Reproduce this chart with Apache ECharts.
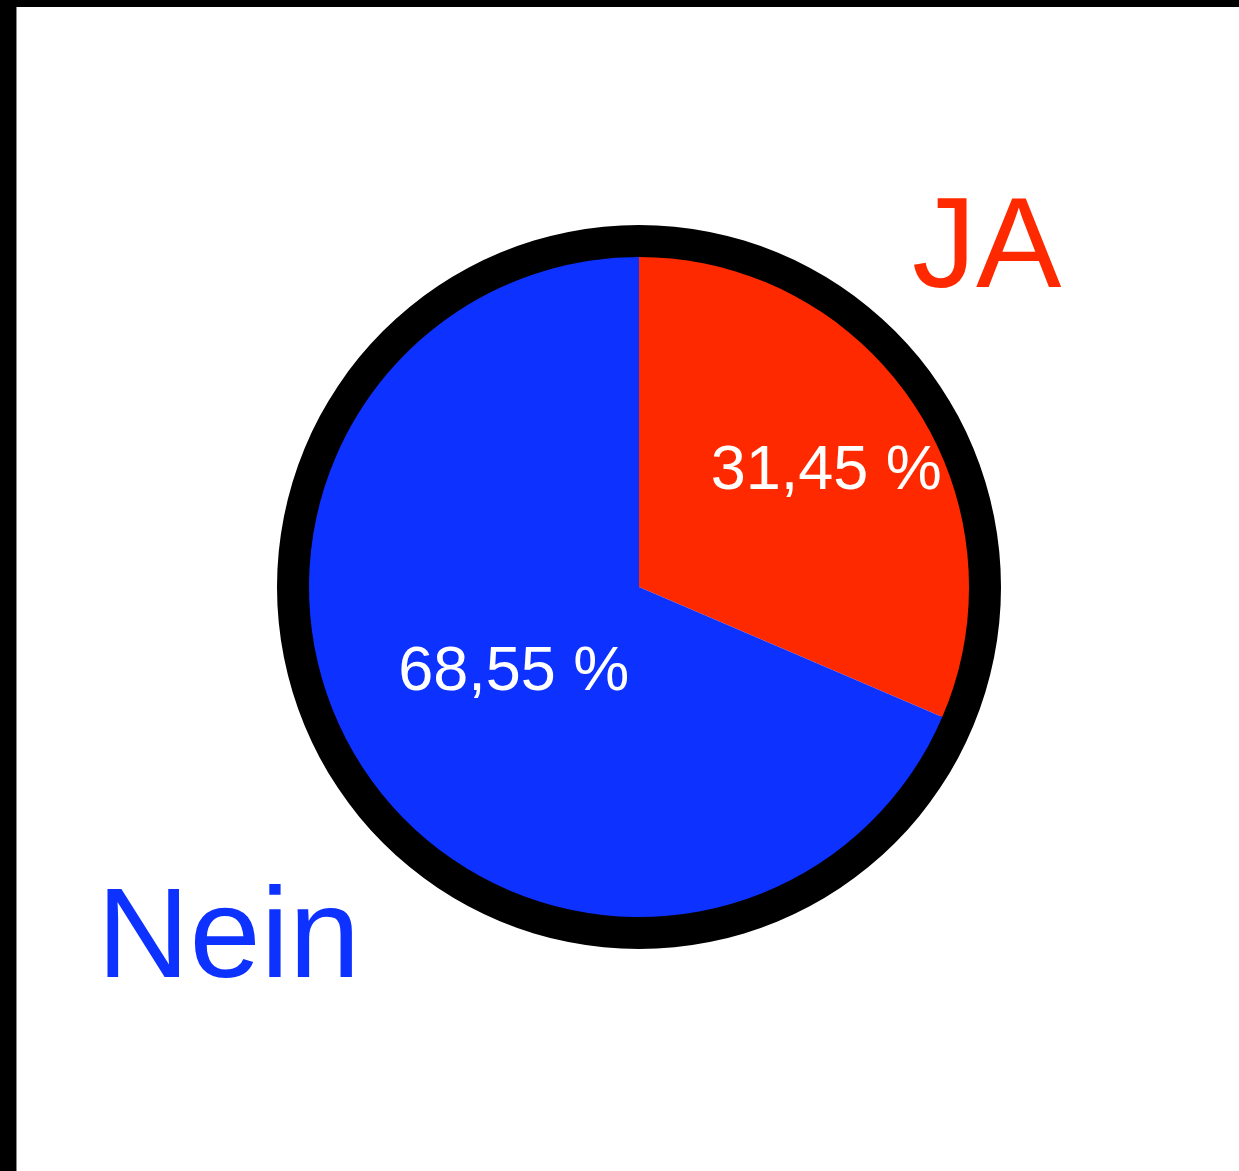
<!DOCTYPE html>
<html>
<head>
<meta charset="utf-8">
<script src="https://cdn.jsdelivr.net/npm/echarts@6/dist/echarts.min.js"></script>
<style>
  html, body { margin: 0; padding: 0; background: #000; }
  #frame { position: relative; width: 1239px; height: 1171px; background: #000; overflow: hidden; }
  #main { position: absolute; left: 16px; top: 7px; width: 1223px; height: 1164px; background: #fff; border-left: 1px solid #888; box-sizing: border-box; }
</style>
</head>
<body>
<div id="frame"><div id="main"></div></div>
<script>
// vote result (share in %)
const categories = ['JA', 'Nein'];
const values = [31.45, 68.55];
const colors = ['#ff2900', '#0d31ff'];

var chartDom = document.getElementById('main');
var myChart = echarts.init(chartDom);

// label nudges so the percentages sit where the original puts them
const labelShift = [[47, -23], [15, -7]];

var option = {
  animation: false,
  graphic: [
    {
      type: 'text',
      left: 895, top: 181,
      style: { text: categories[0], fill: colors[0], font: '128px "Liberation Sans", Arial, sans-serif' }
    },
    {
      type: 'text',
      left: 80, top: 871,
      style: { text: categories[1], fill: colors[1], font: '128px "Liberation Sans", Arial, sans-serif' }
    }
  ],
  series: [
    {
      // black rim
      type: 'pie',
      silent: true,
      center: [622, 580],
      radius: [328, 362],
      label: { show: false },
      labelLine: { show: false },
      itemStyle: { color: '#000' },
      data: [{ value: 1, name: 'rim' }]
    },
    {
      type: 'pie',
      center: [622, 580],
      radius: [0, 330],
      startAngle: 90,
      clockwise: true,
      label: {
        show: true,
        position: 'inside',
        color: '#fff',
        fontSize: 63,
        fontFamily: '"Liberation Sans", Arial, sans-serif',
        formatter: function (p) { return p.value.toFixed(2).replace('.', ',') + ' %'; }
      },
      labelLayout: function (p) {
        var s = labelShift[p.dataIndex];
        return { dx: s[0], dy: s[1] };
      },
      labelLine: { show: false },
      data: categories.map(function (c, i) {
        return { name: c, value: values[i], itemStyle: { color: colors[i] } };
      })
    }
  ]
};
myChart.setOption(option);
</script>
</body>
</html>
